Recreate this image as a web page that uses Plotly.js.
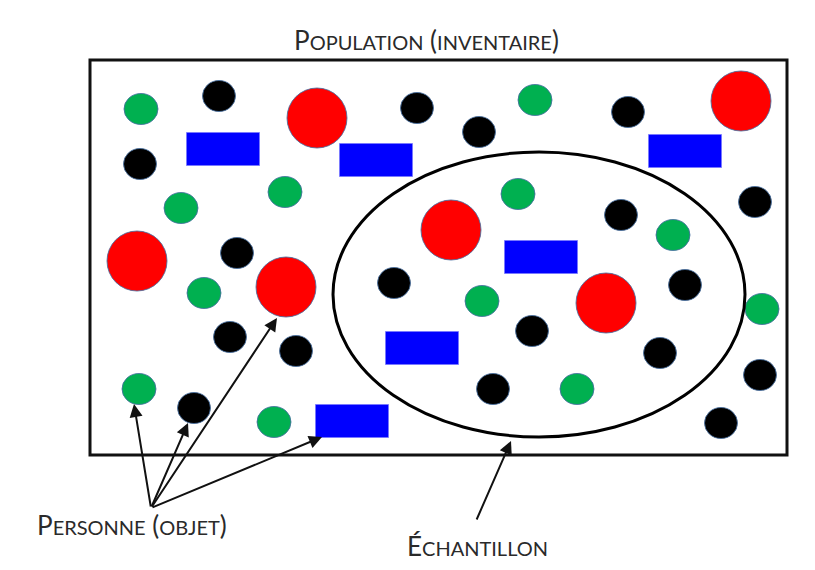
<!DOCTYPE html>
<html><head><meta charset="utf-8">
<script src="https://cdn.plot.ly/plotly-3.0.1.min.js"></script>
<style>html,body{margin:0;padding:0;background:#fff}#chart{width:815px;height:570px}</style>
</head><body><div id="chart"></div>
<script>
// Objects of the population (pixel-space diagram coordinates)
const greenX = [141, 535, 181, 285, 518, 673, 204, 482, 762, 139, 274, 577];
const greenY = [109, 100, 208, 192, 194, 235, 293, 301, 309, 389, 422, 389];
const blackX = [219, 417, 479, 628, 140, 755, 621, 237, 394, 685, 230, 296, 532, 660, 760, 194, 493, 721];
const blackY = [96, 108, 132, 112, 164, 202, 215, 253, 283, 285, 337, 351, 331, 353, 375, 408, 389, 423];
const redX = [317, 741, 137, 451, 286, 606];
const redY = [118, 101, 261, 230, 287, 303];
const blueX = [223, 376, 685, 541, 422, 352];
const blueY = [149, 160, 151, 257, 348, 421];
// Population frame and sample ellipse
const frameX = [90, 787];
const frameY = [60, 455];
const sampleX = [333, 745];
const sampleY = [152, 437];
// Arrows: label anchor -> target
const personArrowTail = [151, 508];
const personTargetsX = [134, 188, 277, 322];
const personTargetsY = [404, 423, 318, 437];
const sampleArrowTail = [476, 521];
const sampleArrowHead = [511, 441];
// Labels
const labelTitle = ['P', 'OPULATION', ' (', 'INVENTAIRE', ')'];
const labelPerson = ['P', 'ERSONNE', ' (', 'OBJET', ')'];
const labelSample = ['É', 'CHANTILLON'];

function smallCaps(parts, big, small) {
  return parts.map((p, i) => {
    const isSmall = (i % 2 === 1) && !/^[ ()]+$/.test(p);
    return '<span style="font-size:' + (isSmall ? small : big) + 'px">' + p + '</span>';
  }).join('');
}

const outline = {color: 'rgba(70,110,160,0.85)', width: 1};
const shapes = [];
shapes.push({type: 'rect', xref: 'x', yref: 'y', x0: frameX[0], x1: frameX[1], y0: frameY[0], y1: frameY[1],
  line: {color: '#111', width: 3}, fillcolor: 'rgba(0,0,0,0)', layer: 'below'});
function ellipses(xs, ys, rx, ry, fill) {
  xs.forEach((x, i) => shapes.push({type: 'circle', xref: 'x', yref: 'y',
    x0: x - rx, x1: x + rx, y0: ys[i] - ry, y1: ys[i] + ry,
    fillcolor: fill, line: outline}));
}
ellipses(greenX, greenY, 17, 15.5, '#00B050');
ellipses(blackX, blackY, 16.5, 15.5, '#000000');
ellipses(redX, redY, 30, 30, '#FF0000');
blueX.forEach((x, i) => shapes.push({type: 'rect', xref: 'x', yref: 'y',
  x0: x - 36.5, x1: x + 36.5, y0: blueY[i] - 16.5, y1: blueY[i] + 16.5,
  fillcolor: '#0000FF', line: {color: 'rgba(120,120,255,0.8)', width: 1}}));
shapes.push({type: 'circle', xref: 'x', yref: 'y', x0: sampleX[0], x1: sampleX[1], y0: sampleY[0], y1: sampleY[1],
  line: {color: '#000', width: 3}, fillcolor: 'rgba(0,0,0,0)'});

const annotations = [];
const txtFont = {family: 'Lato, "Open Sans", sans-serif', color: '#2a2a2a'};
annotations.push({xref: 'x', yref: 'y', x: 426, y: 40, showarrow: false,
  text: smallCaps(labelTitle, 26, 20), font: Object.assign({size: 26}, txtFont)});
annotations.push({xref: 'x', yref: 'y', x: 132, y: 525, showarrow: false,
  text: smallCaps(labelPerson, 26, 20), font: Object.assign({size: 26}, txtFont)});
annotations.push({xref: 'x', yref: 'y', x: 477, y: 546, showarrow: false,
  text: smallCaps(labelSample, 26, 20), font: Object.assign({size: 26}, txtFont)});
personTargetsX.forEach((tx, i) => annotations.push({xref: 'x', yref: 'y', axref: 'x', ayref: 'y',
  x: tx, y: personTargetsY[i], ax: personArrowTail[0], ay: personArrowTail[1], text: '',
  showarrow: true, arrowhead: 2, arrowsize: 1.3, arrowwidth: 2, arrowcolor: '#111', standoff: 0, startstandoff: 0}));
annotations.push({xref: 'x', yref: 'y', axref: 'x', ayref: 'y',
  x: sampleArrowHead[0], y: sampleArrowHead[1], ax: sampleArrowTail[0], ay: sampleArrowTail[1], text: '',
  showarrow: true, arrowhead: 2, arrowsize: 1.3, arrowwidth: 2, arrowcolor: '#111', standoff: 0});

const layout = {
  width: 815, height: 570,
  margin: {l: 0, r: 0, t: 0, b: 0},
  paper_bgcolor: '#fff', plot_bgcolor: '#fff',
  xaxis: {range: [0, 815], visible: false, fixedrange: true},
  yaxis: {range: [570, 0], visible: false, fixedrange: true},
  shapes: shapes, annotations: annotations, showlegend: false
};
Plotly.newPlot('chart', [{x: [], y: [], type: 'scatter', hoverinfo: 'skip'}], layout, {staticPlot: true});
</script></body></html>
